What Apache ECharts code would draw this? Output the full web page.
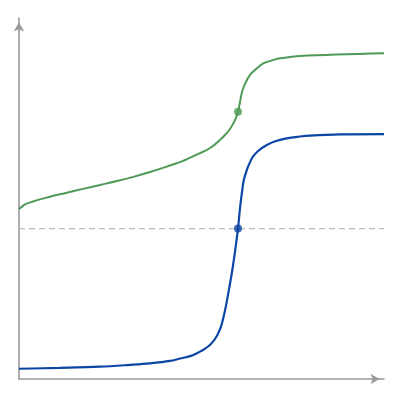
<!DOCTYPE html>
<html>
<head>
<meta charset="utf-8">
<script src="https://cdn.jsdelivr.net/npm/echarts@6/dist/echarts.min.js"></script>
<style>
html,body{margin:0;padding:0;background:#fff;}
#c{width:400px;height:400px;}
</style>
</head>
<body>
<div id="c"></div>
<script>
// Titrant volume (arbitrary units, 0..100) and curve heights (arbitrary units, 0..12)
const blueX = [0,11.2,22.2,30.4,35.9,41.4,44.1,46.9,49.6,51,52.3,53.7,55.1,55.9,56.7,57.5,58.4,59.2,60,60.55,61.1,61.6,62.5,63.3,64.1,65.5,67.9,70.4,73.3,77,79.7,88,100];
const blueY = [0.34,0.37,0.41,0.47,0.52,0.60,0.68,0.76,0.91,1.01,1.13,1.33,1.66,1.99,2.43,2.96,3.59,4.25,5.0,5.68,6.22,6.62,6.98,7.21,7.39,7.58,7.78,7.91,8.0,8.06,8.09,8.13,8.14];
const greenX = [0,0.82,1.92,3.84,5.75,8.49,13.07,17.53,22.19,26.85,31.32,35.89,40.47,44.93,49.59,50.96,52.33,53.7,55.07,56.44,57.81,58.9,59.45,60,60.55,61.1,61.92,63.29,65.2,66.93,69.6,71.5,77,100];
const greenY = [5.65,5.73,5.82,5.90,5.97,6.06,6.19,6.32,6.45,6.58,6.72,6.88,7.06,7.25,7.51,7.58,7.68,7.80,7.95,8.11,8.31,8.54,8.68,8.88,9.21,9.54,9.81,10.11,10.33,10.49,10.60,10.66,10.74,10.83];
const equivX = 60;
const blueEquivY = 5.0;
const greenEquivY = 8.88;
const refLineY = 5.0;
const xRange = [0, 100];
const yRange = [0, 12];

const pairs = (xs, ys) => xs.map((x, i) => [x, ys[i]]);

const BLUE = '#0b45a6';
const GREEN = '#4f9a56';
const AXIS = '#9a9a9a';

const axisCommon = {
  type: 'value',
  axisLine: {
    show: true,
    onZero: false,
    symbol: ['none', 'arrow'],
    symbolSize: [8, 9],
    symbolOffset: [0, -4.5],
    lineStyle: {color: AXIS, width: 1.6}
  },
  axisTick: {show: false},
  axisLabel: {show: false},
  splitLine: {show: false}
};

const chart = echarts.init(document.getElementById('c'));
chart.setOption({
  animation: false,
  grid: {left: 19, right: 16, top: 18, bottom: 21},
  xAxis: Object.assign({}, axisCommon, {min: xRange[0], max: xRange[1]}),
  yAxis: Object.assign({}, axisCommon, {min: yRange[0], max: yRange[1]}),
  series: [
    {
      type: 'line',
      data: [[xRange[0], refLineY], [xRange[1], refLineY]],
      showSymbol: false,
      lineStyle: {color: '#bdbdbd', width: 1.2, type: [6, 4]},
      z: 1
    },
    {
      type: 'line',
      data: pairs(greenX, greenY),
      smooth: 0.35,
      showSymbol: false,
      lineStyle: {color: GREEN, width: 2},
      z: 2
    },
    {
      type: 'line',
      data: pairs(blueX, blueY),
      smooth: 0.35,
      showSymbol: false,
      lineStyle: {color: BLUE, width: 2.2},
      z: 3
    },
    {
      type: 'scatter',
      data: [[equivX, greenEquivY]],
      symbolSize: 8,
      itemStyle: {color: GREEN},
      z: 4
    },
    {
      type: 'scatter',
      data: [[equivX, blueEquivY]],
      symbolSize: 8,
      itemStyle: {color: BLUE},
      z: 4
    }
  ]
});
</script>
</body>
</html>
